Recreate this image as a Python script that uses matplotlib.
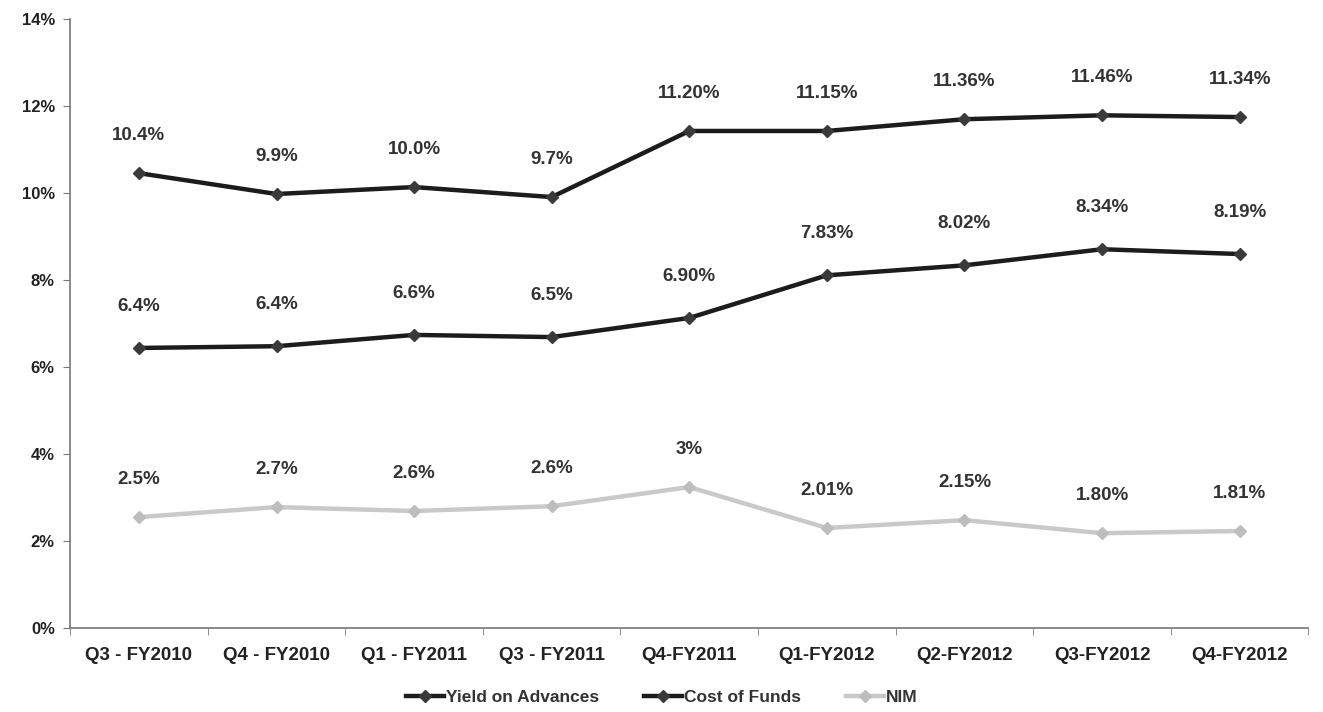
import matplotlib
matplotlib.use("Agg")
import matplotlib.pyplot as plt
import numpy as np

plt.rcParams['font.family'] = ['Liberation Sans', 'DejaVu Sans']

quarters = ['Q3 - FY2010', 'Q4 - FY2010', 'Q1 - FY2011', 'Q3 - FY2011', 'Q4-FY2011',
            'Q1-FY2012', 'Q2-FY2012', 'Q3-FY2012', 'Q4-FY2012']

yield_adv = [10.46, 9.98, 10.14, 9.91, 11.43, 11.43, 11.70, 11.79, 11.75]
cost_funds = [6.44, 6.48, 6.74, 6.69, 7.13, 8.11, 8.34, 8.71, 8.60]
nim = [2.55, 2.78, 2.69, 2.80, 3.24, 2.30, 2.48, 2.18, 2.23]

# data labels as printed on the chart
yield_lbl = ['10.4%', '9.9%', '10.0%', '9.7%', '11.20%', '11.15%', '11.36%', '11.46%', '11.34%']
cost_lbl = ['6.4%', '6.4%', '6.6%', '6.5%', '6.90%', '7.83%', '8.02%', '8.34%', '8.19%']
nim_lbl = ['2.5%', '2.7%', '2.6%', '2.6%', '3%', '2.01%', '2.15%', '1.80%', '1.81%']

fig = plt.figure(figsize=(13.23, 7.12), dpi=100)
ax = fig.add_axes([0.053, 0.118, 0.936, 0.855])

x = np.arange(len(quarters))
series = [
    (yield_adv, yield_lbl, 'Yield on Advances', '#1c1c1c', '#3a3a3a', 27),
    (cost_funds, cost_lbl, 'Cost of Funds', '#1c1c1c', '#3a3a3a', 30),
    (nim, nim_lbl, 'NIM', '#c9c9c9', '#bdbdbd', 27),
]
for vals, lbls, name, col, mcol, off in series:
    ax.plot(x, vals, color=col, lw=3.2, marker='D', ms=6, mfc=mcol, mec=mcol,
            label=name, zorder=3)
    for xi, v, t in zip(x, vals, lbls):
        ax.annotate(t, (xi, v), xytext=(0, off), textcoords='offset points',
                    ha='center', va='center', fontsize=13.5, fontweight='bold',
                    color='#333333')

ax.set_xlim(-0.5, len(quarters) - 0.5)
ax.set_ylim(0, 14)
ax.set_yticks(np.arange(0, 15, 2))
ax.set_yticklabels([f'{v}%' for v in range(0, 15, 2)], fontsize=12,
                   fontweight='bold', color='#222222')
ax.set_xticks(x)
ax.set_xticklabels(quarters, fontsize=13.5, fontweight='bold', color='#222222')
ax.set_xticks(np.arange(-0.5, len(quarters), 1), minor=True)
ax.tick_params(axis='x', which='major', length=0, pad=14)
ax.tick_params(axis='x', which='minor', length=5, color='#777777')
ax.tick_params(axis='y', length=5, color='#777777', pad=6)

for s in ['top', 'right']:
    ax.spines[s].set_visible(False)
for s in ['left', 'bottom']:
    ax.spines[s].set_color('#777777')
    ax.spines[s].set_linewidth(1.2)

fig.legend(loc='lower center', ncol=3, frameon=False, bbox_to_anchor=(0.5, -0.012),
           prop={'size': 12.5, 'weight': 'bold'}, handlelength=2.2,
           handletextpad=0.1, columnspacing=2.6, labelcolor='#333333')

fig.savefig('out.png', dpi=100, facecolor='white')
